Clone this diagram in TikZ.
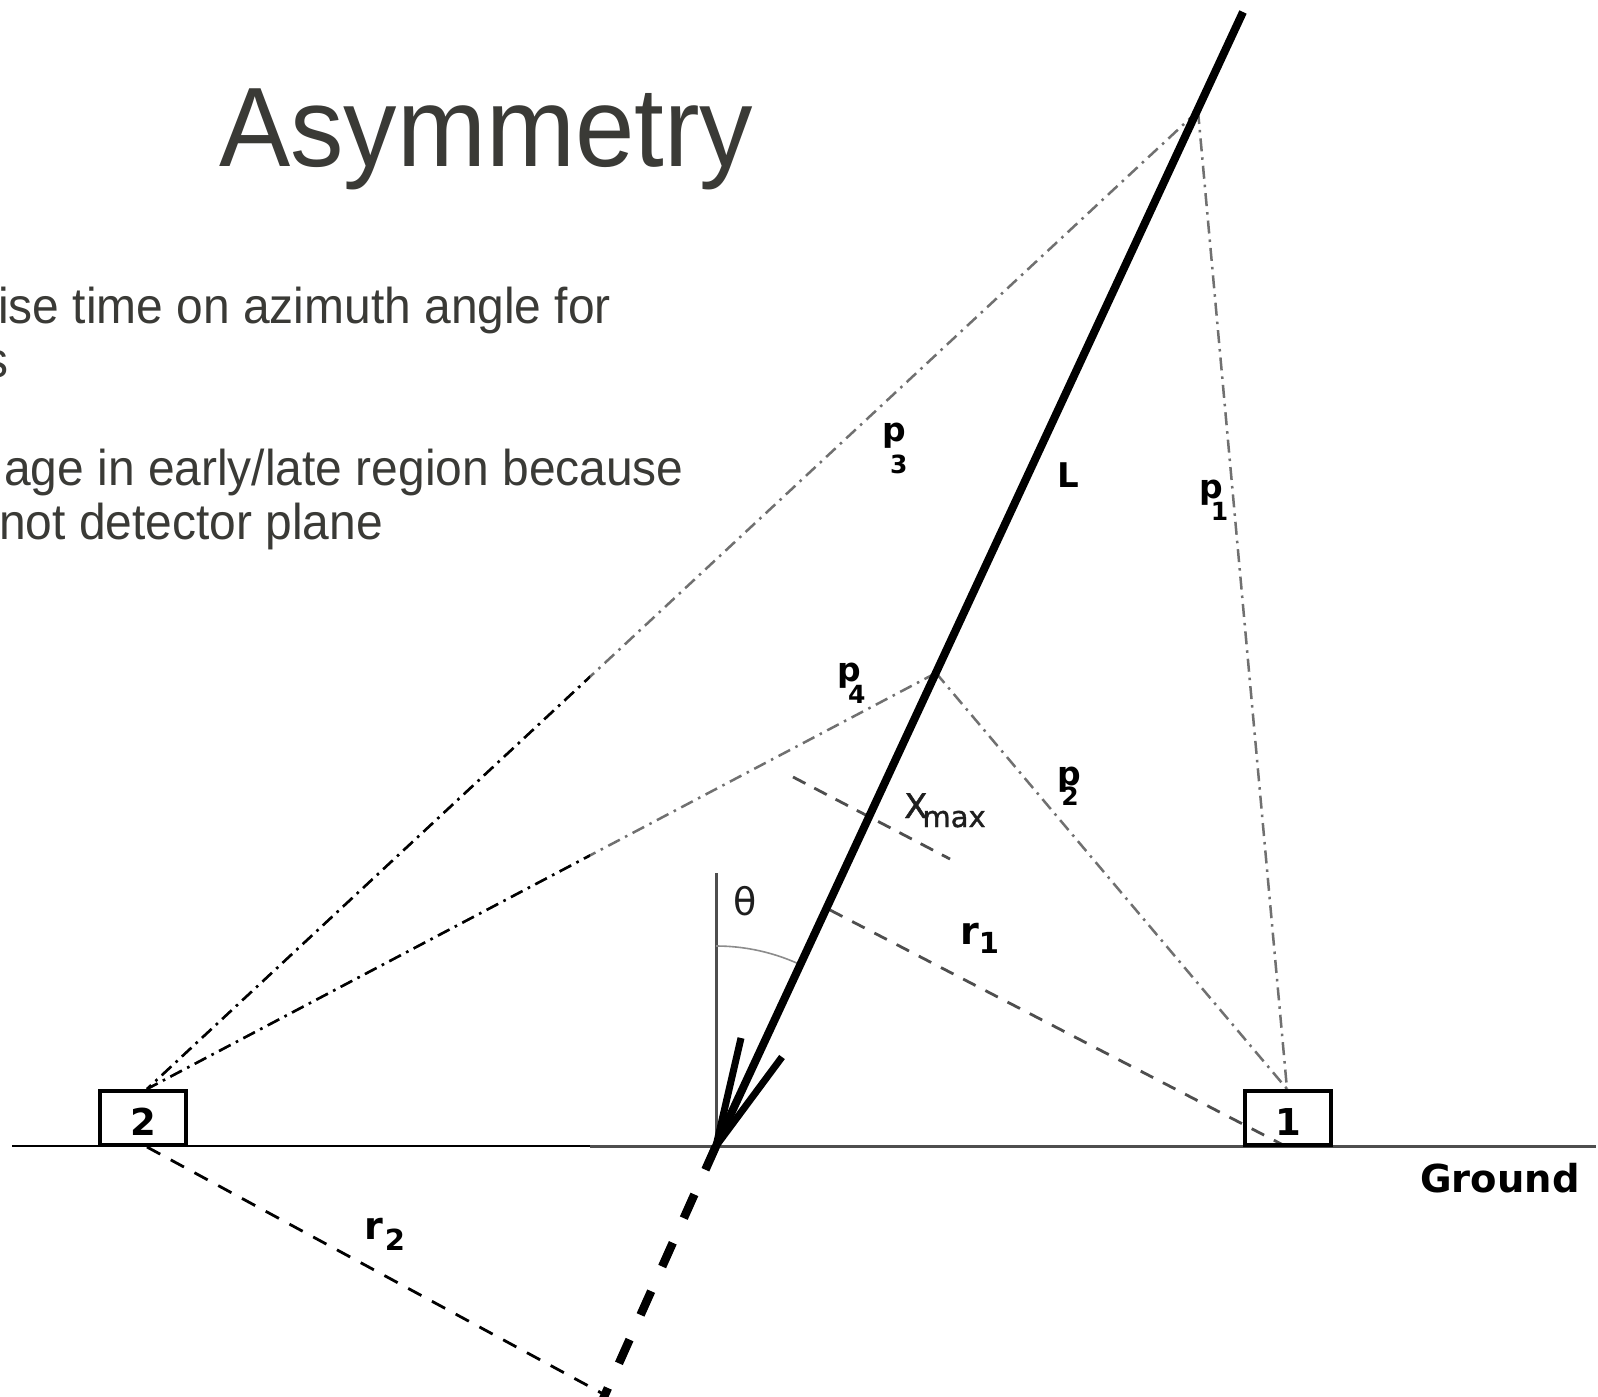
\documentclass[tikz,border=0pt]{standalone}
\usepackage{fontspec}
\newfontfamily\titlefont{Liberation Sans}[FakeStretch=0.945]
\newfontfamily\bodyfont{Liberation Sans}[FakeStretch=0.953]
\newfontfamily\labfont{DejaVu Sans}
\newfontfamily\labsemi{DejaVu Sans}[FakeBold=1.2]
\definecolor{txtgray}{RGB}{58,58,54}
\definecolor{lgray}{RGB}{112,112,112}
\definecolor{mgray}{RGB}{78,78,78}
\definecolor{agray}{RGB}{140,140,140}
\newcommand{\plab}[3]{\labfont\bfseries\fontsize{33}{33}\selectfont p\kern#2pt\raisebox{-#3pt}{\fontsize{25}{25}\selectfont #1}}
\newcommand{\rlab}[3]{\labfont\bfseries\fontsize{38}{38}\selectfont r\kern#2pt\raisebox{-#3pt}{\fontsize{29}{29}\selectfont #1}}
\tikzset{
  dashdotline/.style={line width=2.5pt, dash pattern=on 13pt off 6pt on 2.5pt off 6pt},
  shortdash/.style={line width=2.8pt, dash pattern=on 14pt off 11pt},
  axisline/.style={line width=8pt, black},
  stationbox/.style={draw, line width=4.2pt, minimum width=86pt, minimum height=54pt,
    inner sep=0pt, text height=34pt, text depth=0pt,
    font=\labfont\bfseries\fontsize{37}{37}\selectfont},
  lab/.style={anchor=base west, inner sep=0pt},
  bodytext/.style={anchor=base west, inner sep=0pt, text=txtgray,
    font=\bodyfont\fontsize{50.3}{50.3}\selectfont}
}
\begin{document}
\begin{tikzpicture}[x=1pt,y=-1pt]
\useasboundingbox (0,0) rectangle (1598,1397);
\fill[white] (0,0) rectangle (1598,1397);

% key points
\coordinate (I) at (716,1146);
\coordinate (T) at (1243,12);
\coordinate (Ptop) at (1198,111);
\coordinate (Px) at (936,673);
\coordinate (S2t) at (147,1089);
\coordinate (S2b) at (147,1147);
\coordinate (S1t) at (1287,1089);
\coordinate (S1b) at (1287,1147);
\coordinate (R1) at (830,910);
\coordinate (R2) at (607,1396);
\coordinate (Bend) at (603,1399);
\coordinate (V) at (716,873);
\coordinate (XA) at (793,777);
\coordinate (XB) at (950,859);
\coordinate (B1) at (741,1038);
\coordinate (B2) at (782,1057);
\coordinate (G0) at (12,1146);
\coordinate (Gm) at (590,1146);
\coordinate (G1) at (1596,1146);

% title and text
\node[anchor=base west, inner sep=0pt, text=txtgray,
  font=\titlefont\fontsize{113}{113}\selectfont] (title) at (219,166) {Asymmetry};
\node[bodytext] (line1) at (-2,323) {ise time on azimuth angle for};
\node[bodytext] (line2) at (-16,377) {s};
\node[bodytext] (line3) at (4,485) {age in early/late region because};
\node[bodytext] (line4) at (-1,539) {not detector plane};

% ground
\draw[line width=2.5pt, black] (G0) -- (Gm);
\draw[line width=3pt, mgray] (Gm) -- (G1);

% vertical and theta arc
\draw[line width=3pt, mgray] (I) -- (V);
\draw[line width=1.6pt, agray] plot[domain=270:295, samples=40]
  ({716+200*cos(\x)},{1146+200*sin(\x)});

% dash-dot lines (grey part)
\draw[dashdotline, lgray] (Ptop) -- (S2t);
\draw[dashdotline, lgray] (Px) -- (S2t);
\draw[dashdotline, lgray] (Ptop) -- (S1t);
\draw[dashdotline, lgray] (Px) -- (S1t);
% dash-dot lines (black part, left of x=590)
\begin{scope}
  \clip (0,0) rectangle (590,1397);
  \draw[dashdotline, black] (Ptop) -- (S2t);
  \draw[dashdotline, black] (Px) -- (S2t);
\end{scope}

% dashed lines
\draw[shortdash, mgray] (R1) -- (S1b);
\draw[shortdash, black, dash pattern=on 15pt off 12pt] (S2b) -- (R2);
\draw[shortdash, mgray, dash pattern=on 14pt off 10pt] (XA) -- (XB);

% stations
\node[stationbox] (st2) at (143,1118) {2};
\node[stationbox] (st1) at (1288,1118) {1};

% shower axis
\draw[axisline, line cap=butt] (I) -- (T);
\draw[line width=8.5pt, black, dash pattern=on 26pt off 27pt] (I) -- (Bend);
\draw[line width=7pt, black, line join=miter] (B1) -- (I) -- (B2);

% labels
\node[lab] (lp3) at (882,441) {\plab{3}{-15.6}{32}};
\node[lab] (lp1) at (1199,498) {\plab{1}{-12}{22}};
\node[lab] (lp4) at (837,681) {\plab{4}{-12.6}{22}};
\node[lab] (lp2) at (1057,785) {\plab{2}{-19.5}{20}};
\node[lab] (lL) at (1057,487) {\labfont\bfseries\fontsize{34}{34}\selectfont L};
\node[lab] (lr1) at (960,944) {\rlab{1}{0}{9}};
\node[lab] (lr2) at (364,1239) {\rlab{2}{2}{11}};
\node[lab, text={rgb,255:red,30;green,30;blue,30}] (lx) at (904,818)
  {\labsemi\fontsize{34}{34}\selectfont X\kern-5pt\raisebox{-9pt}{\fontsize{29}{29}\selectfont max}};
\node[anchor=base, inner sep=0pt, text={rgb,255:red,30;green,30;blue,30}] (lth) at (745,915)
  {\labfont\fontsize{38}{38}\selectfont θ};
\node[lab] (lg) at (1420,1192) {\labfont\bfseries\fontsize{38.5}{38.5}\selectfont Ground};
\end{tikzpicture}
\end{document}
